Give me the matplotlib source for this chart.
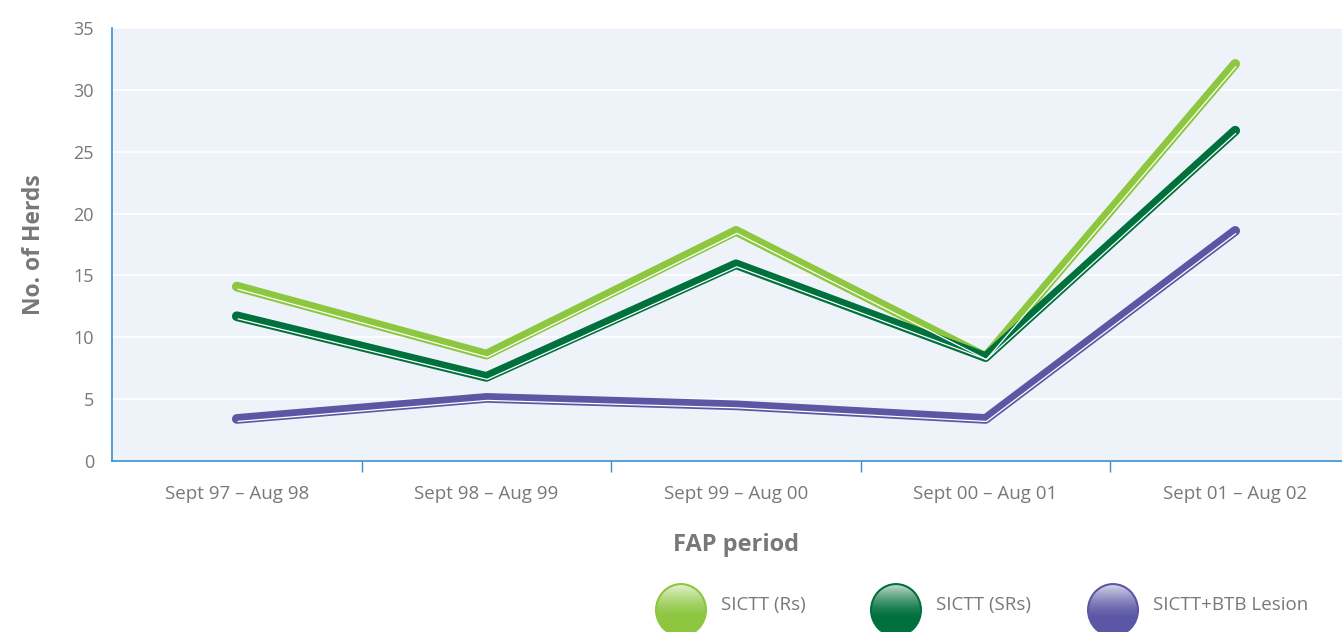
import matplotlib
matplotlib.use("Agg")
import numpy as np
import matplotlib.pyplot as plt
from matplotlib.patches import Ellipse
from matplotlib.colors import to_rgb
from matplotlib.transforms import ScaledTranslation

periods = ["Sept 97 – Aug 98", "Sept 98 – Aug 99", "Sept 99 – Aug 00",
           "Sept 00 – Aug 01", "Sept 01 – Aug 02"]
rs = [14.1, 8.6, 18.6, 8.4, 32.1]
srs = [11.7, 6.8, 15.9, 8.4, 26.7]
lesion = [3.4, 5.1, 4.5, 3.4, 18.6]
series_names = ["SICTT (Rs)", "SICTT (SRs)", "SICTT+BTB Lesion"]
colors = ["#8DC63F", "#00703C", "#5B57A5"]
yticks = [0, 5, 10, 15, 20, 25, 30, 35]

plt.rcParams['font.family'] = ['Open Sans', 'DejaVu Sans']
grey = "#77787b"
spine_blue = "#3a8fd0"

fig = plt.figure(figsize=(13.42, 6.32), dpi=100)
W, H = 1342, 632
ax = fig.add_axes([112/W, (H-461)/H, 1248/W, 433/H])
ax.set_facecolor("#EEF3FA")

x = list(range(len(periods)))
off = ScaledTranslation(0.6/72, -1.8/72, fig.dpi_scale_trans)
for vals, c in zip([rs, srs, lesion], colors):
    ax.plot(x, vals, color=c, lw=7, solid_capstyle='round', solid_joinstyle='round', zorder=3)
    ax.plot(x, vals, color='white', lw=0.9, solid_capstyle='butt', zorder=4,
            transform=ax.transData + off)

ax.set_xlim(-0.5, 4.5)
ax.set_ylim(0, 35)
ax.set_yticks(yticks)
ax.yaxis.grid(True, color='white', lw=1.2)
ax.set_axisbelow(True)
ax.set_xticks(x)
ax.set_xticklabels(periods)
ax.set_xticks([0.5, 1.5, 2.5, 3.5], minor=True)
ax.tick_params(axis='x', which='major', length=0, pad=17, labelsize=13.5, labelcolor=grey)
ax.tick_params(axis='x', which='minor', length=8, width=1, color=spine_blue, direction='out')
ax.tick_params(axis='y', length=0, pad=13, labelsize=13, labelcolor=grey)
for s in ['top', 'right']:
    ax.spines[s].set_visible(False)
for s in ['left', 'bottom']:
    ax.spines[s].set_color(spine_blue)
    ax.spines[s].set_linewidth(1.2)

ax.set_ylabel("No. of Herds", fontsize=16.5, fontweight='bold', color=grey, labelpad=20)
ax.set_xlabel("FAP period", fontsize=17, fontweight='bold', color=grey, labelpad=22)

# legend
leg_x = [681, 896, 1113]
text_x = [721, 936, 1153]
cy = 610
ew, eh = 52, 54
for lx, tx, c, name in zip(leg_x, text_x, colors, series_names):
    lax = fig.add_axes([(lx-ew/2)/W, (H-cy-eh/2)/H, ew/W, eh/H])
    lax.set_axis_off()
    lax.set_xlim(0, 1)
    lax.set_ylim(0, 1)
    base = np.array(to_rgb(c))
    yy = np.linspace(0, 1, 100)
    w = np.clip((yy - 0.35) / 0.65, 0, 1) ** 1.5 * 0.8
    grad = base[None, None, :] * (1 - w[:, None, None]) + w[:, None, None]
    grad = np.repeat(grad, 2, axis=1)
    im = lax.imshow(grad, extent=[0, 1, 0, 1], origin='lower', aspect='auto')
    e = Ellipse((0.5, 0.5), 0.96, 0.96, transform=lax.transAxes, facecolor='none',
                edgecolor=c, lw=1.5)
    lax.add_patch(e)
    im.set_clip_path(e)
    fig.text(tx/W, 1-605/H, name, fontsize=13.5, color=grey, va='center', ha='left')

fig.savefig("out.png", dpi=100)
